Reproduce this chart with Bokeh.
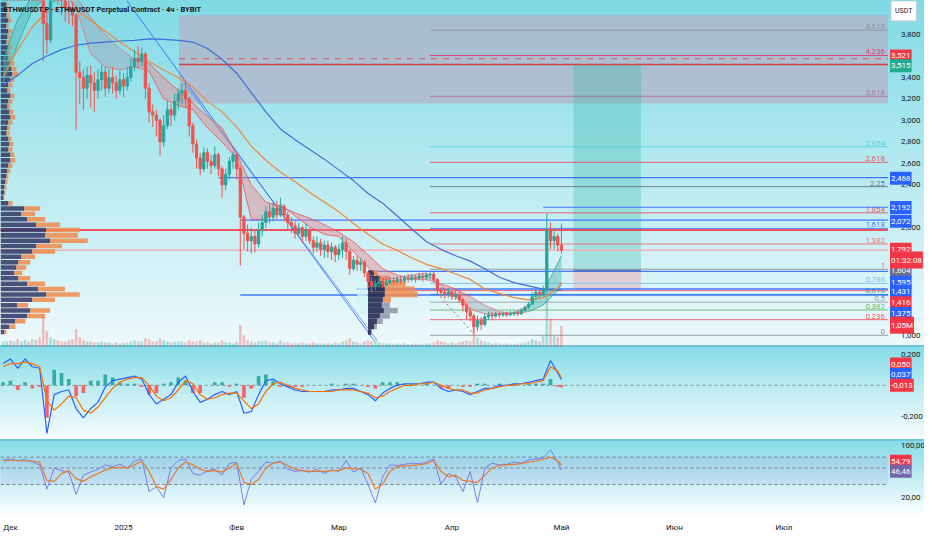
import numpy as np
from bokeh.plotting import figure
from bokeh.layouts import column
from bokeh.models import (Range1d, FixedTicker, CustomJSTickFormatter, Label,
                          BoxAnnotation, ColumnDataSource)
from bokeh.core.properties import value
from bokeh.embed import file_html
from bokeh.resources import INLINE

# ---------------- data (ETHW/USDT) ----------------
candle_days = list(range(-2, 152))          # day 0 = 1 Dec 2024
first_open = 4.40
closes = [4.45, 4.50, 4.40, 4.55, 4.35, 4.48, 4.60, 4.40, 4.52, 4.38,
          4.30, 3.90, 3.75, 4.15, 4.25, 4.20, 4.12, 4.05, 4.02, 3.98,
          3.45, 3.40, 3.30, 3.42, 3.35, 3.28, 3.38, 3.45, 3.30, 3.40,
          3.35, 3.28, 3.38, 3.32, 3.40, 3.50, 3.58, 3.55, 3.62, 3.30,
          3.08, 3.05, 3.00, 2.80, 2.95, 3.10, 3.05, 3.18, 3.25, 3.28,
          3.20, 2.95, 2.78, 2.65, 2.55, 2.70, 2.62, 2.58, 2.68, 2.55,
          2.40, 2.50, 2.62, 2.68, 2.55, 2.10, 1.95, 1.88, 1.92, 1.85,
          1.98, 2.05, 2.15, 2.10, 2.18, 2.12, 2.20, 2.12, 2.05, 2.02,
          1.95, 2.00, 1.92, 1.98, 1.88, 1.82, 1.86, 1.80, 1.84, 1.78,
          1.82, 1.75, 1.80, 1.86, 1.78, 1.62, 1.70, 1.66, 1.68, 1.58,
          1.50, 1.46, 1.48, 1.50, 1.47, 1.49, 1.51, 1.50, 1.52, 1.51,
          1.53, 1.52, 1.54, 1.53, 1.55, 1.54, 1.56, 1.57, 1.52, 1.42,
          1.40, 1.38, 1.40, 1.36, 1.38, 1.33, 1.28, 1.22, 1.18, 1.08,
          1.14, 1.10, 1.17, 1.19, 1.18, 1.20, 1.19, 1.20, 1.19, 1.20,
          1.21, 1.20, 1.23, 1.26, 1.29, 1.36, 1.40, 1.38, 1.42, 1.98,
          1.88, 1.92, 1.84, 1.792]
highs = [4.60, 4.62, 4.55, 4.70, 4.60, 4.58, 4.75, 4.65, 4.60, 4.55,
         4.45, 4.35, 4.05, 4.25, 4.35, 4.32, 4.25, 4.18, 4.12, 4.10,
         4.00, 3.55, 3.48, 3.50, 3.51, 3.45, 3.48, 3.52, 3.50, 3.48,
         3.50, 3.42, 3.46, 3.44, 3.50, 3.58, 3.66, 3.69, 3.68, 3.64,
         3.35, 3.15, 3.10, 3.02, 3.05, 3.18, 3.15, 3.25, 3.30, 3.35,
         3.36, 3.22, 2.98, 2.82, 2.70, 2.75, 2.74, 2.68, 2.76, 2.70,
         2.58, 2.55, 2.66, 2.71, 2.70, 2.58, 2.12, 2.03, 2.00, 1.98,
         2.05, 2.12, 2.20, 2.22, 2.24, 2.25, 2.28, 2.22, 2.15, 2.10,
         2.06, 2.05, 2.02, 2.04, 2.00, 1.92, 1.92, 1.90, 1.88, 1.88,
         1.86, 1.84, 1.85, 1.92, 1.90, 1.80, 1.74, 1.74, 1.72, 1.70,
         1.60, 1.54, 1.52, 1.54, 1.53, 1.52, 1.54, 1.54, 1.55, 1.56,
         1.56, 1.57, 1.57, 1.56, 1.58, 1.58, 1.58, 1.59, 1.59, 1.53,
         1.45, 1.43, 1.44, 1.42, 1.42, 1.40, 1.35, 1.30, 1.26, 1.20,
         1.18, 1.17, 1.20, 1.22, 1.22, 1.22, 1.22, 1.22, 1.22, 1.23,
         1.23, 1.23, 1.25, 1.28, 1.31, 1.40, 1.43, 1.43, 1.46, 2.13,
         2.05, 1.97, 1.95, 2.04]
lows = [4.35, 4.38, 4.30, 4.35, 4.25, 4.30, 4.42, 4.30, 4.35, 4.25,
        4.15, 3.55, 3.62, 3.72, 4.10, 4.08, 3.98, 3.92, 3.90, 3.88,
        2.91, 3.15, 3.10, 3.20, 3.12, 3.08, 3.20, 3.28, 3.22, 3.25,
        3.25, 3.20, 3.24, 3.22, 3.28, 3.36, 3.46, 3.48, 3.50, 3.20,
        2.98, 2.94, 2.85, 2.67, 2.75, 2.92, 2.95, 3.00, 3.10, 3.15,
        3.12, 2.85, 2.70, 2.55, 2.49, 2.52, 2.55, 2.50, 2.55, 2.48,
        2.28, 2.35, 2.45, 2.55, 2.45, 1.65, 1.80, 1.78, 1.76, 1.77,
        1.82, 1.92, 2.00, 2.04, 2.06, 2.08, 2.10, 2.06, 1.98, 1.95,
        1.90, 1.92, 1.86, 1.88, 1.85, 1.76, 1.78, 1.74, 1.72, 1.72,
        1.70, 1.68, 1.70, 1.72, 1.70, 1.56, 1.60, 1.60, 1.60, 1.54,
        1.44, 1.40, 1.42, 1.45, 1.44, 1.45, 1.47, 1.47, 1.48, 1.48,
        1.49, 1.49, 1.50, 1.49, 1.51, 1.50, 1.51, 1.52, 1.49, 1.39,
        1.36, 1.34, 1.35, 1.33, 1.33, 1.30, 1.22, 1.15, 1.13, 1.02,
        1.04, 1.05, 1.08, 1.14, 1.15, 1.16, 1.16, 1.17, 1.17, 1.18,
        1.18, 1.18, 1.19, 1.22, 1.24, 1.28, 1.33, 1.35, 1.36, 1.40,
        1.80, 1.80, 1.78, 1.76]
volumes_m = [0.30, 0.30, 0.35, 0.30, 0.40, 0.30, 0.35, 0.30, 0.40, 0.35, 0.50,
             1.50, 0.80, 0.50, 0.40, 0.35, 0.30, 0.30, 0.35, 0.40, 0.90,
             0.50, 0.35, 0.30, 0.30, 0.25, 0.25, 0.30, 0.25, 0.25, 0.20,
             0.25, 0.20, 0.25, 0.25, 0.30, 0.35, 0.30, 0.30, 0.45, 0.40,
             0.30, 0.30, 0.45, 0.35, 0.30, 0.25, 0.30, 0.30, 0.30, 0.25,
             0.35, 0.30, 0.30, 0.35, 0.25, 0.25, 0.20, 0.25, 0.25, 0.35,
             0.25, 0.25, 0.20, 0.30, 1.10, 0.60, 0.35, 0.30, 0.25, 0.30,
             0.30, 0.35, 0.25, 0.25, 0.20, 0.35, 0.25, 0.25, 0.20, 0.20,
             0.20, 0.25, 0.20, 0.20, 0.25, 0.20, 0.20, 0.20, 0.20, 0.20,
             0.25, 0.20, 0.30, 0.35, 0.45, 0.30, 0.25, 0.20, 0.30, 0.35,
             0.30, 0.35, 0.25, 0.20, 0.20, 0.20, 0.15, 0.20, 0.15, 0.20,
             0.15, 0.15, 0.20, 0.15, 0.15, 0.20, 0.20, 0.25, 0.35, 0.30,
             0.25, 0.20, 0.25, 0.20, 0.25, 0.30, 0.35, 0.30, 1.20, 0.50,
             0.35, 0.30, 0.25, 0.20, 0.20, 0.20, 0.15, 0.20, 0.15, 0.15,
             0.20, 0.20, 0.25, 0.30, 0.40, 0.35, 0.30, 0.60, 3.40, 1.40,
             0.60, 0.50, 1.05]

# moving averages / EMA ribbon (sampled every 4 days)
ma_days = list(range(-2, 151, 4)) + [151]
ma_long = [3.33, 3.42, 3.53, 3.60, 3.66, 3.70, 3.72, 3.73, 3.74, 3.745,
           3.76, 3.755, 3.745, 3.73, 3.67, 3.57, 3.44, 3.26, 3.08, 2.92,
           2.82, 2.73, 2.64, 2.54, 2.44, 2.32, 2.23, 2.11, 1.99, 1.87,
           1.80, 1.74, 1.69, 1.62, 1.54, 1.49, 1.46, 1.43, 1.42, 1.42]
ma_mid = [3.41, 3.66, 3.87, 4.01, 4.06, 4.03, 3.93, 3.83, 3.73, 3.64,
          3.55, 3.47, 3.40, 3.31, 3.18, 3.08, 2.94, 2.76, 2.63, 2.52,
          2.43, 2.33, 2.24, 2.15, 2.04, 1.94, 1.85, 1.79, 1.72, 1.66,
          1.62, 1.57, 1.52, 1.43, 1.39, 1.35, 1.33, 1.35, 1.44, 1.49]
ema_fast = [3.57, 3.94, 4.16, 4.25, 4.22, 4.05, 3.62, 3.50, 3.47, 3.50,
            3.46, 3.20, 3.14, 3.10, 2.93, 2.80, 2.65, 2.08, 2.08, 2.22,
            2.11, 2.01, 1.94, 1.92, 1.78, 1.63, 1.52, 1.53, 1.56, 1.58,
            1.46, 1.36, 1.24, 1.20, 1.20, 1.21, 1.27, 1.40, 1.67, 1.74]
ema_slow = [3.35, 3.71, 4.03, 4.15, 4.20, 4.15, 3.96, 3.80, 3.67, 3.57,
            3.53, 3.40, 3.28, 3.16, 3.04, 2.93, 2.69, 2.40, 2.24, 2.20,
            2.14, 2.09, 2.03, 1.96, 1.87, 1.75, 1.62, 1.56, 1.52, 1.52,
            1.48, 1.43, 1.36, 1.28, 1.22, 1.20, 1.22, 1.28, 1.42, 1.47]

# MACD / RSI (sampled every 2 days)
ind_days = list(range(-2, 151, 2)) + [151]
macd_line = [0.14, 0.17, 0.11, 0.17, 0.12, 0.11, -0.31, -0.06, -0.04, -0.03,
             -0.15, -0.21, -0.15, -0.11, -0.01, 0.03, 0.04, 0.05, 0.06, 0.04,
             -0.06, -0.12, -0.09, -0.06, 0.02, 0.06, -0.04, -0.11, -0.09, -0.06,
             -0.04, -0.06, -0.04, -0.18, -0.17, -0.06, 0.03, 0.04, 0.01, -0.01,
             -0.03, -0.04, -0.04, -0.04, -0.04, -0.03, -0.03, -0.02, -0.02, -0.04,
             -0.06, -0.10, -0.05, -0.02, 0.00, 0.01, 0.01, 0.01, 0.02, 0.02,
             -0.02, -0.04, -0.03, -0.04, -0.06, -0.04, -0.02, -0.02, 0.00, 0.00,
             0.01, 0.01, 0.02, 0.03, 0.04, 0.16, 0.08, 0.037]
signal_line = [0.12, 0.14, 0.14, 0.15, 0.14, 0.12, -0.10, -0.16, -0.12, -0.07,
               -0.08, -0.16, -0.18, -0.14, -0.08, -0.02, 0.02, 0.04, 0.05, 0.05,
               0.00, -0.07, -0.10, -0.08, -0.03, 0.03, 0.01, -0.06, -0.09, -0.08,
               -0.06, -0.05, -0.05, -0.10, -0.15, -0.12, -0.04, 0.01, 0.02, 0.00,
               -0.02, -0.03, -0.04, -0.04, -0.04, -0.04, -0.03, -0.03, -0.03, -0.04,
               -0.05, -0.08, -0.07, -0.04, -0.02, 0.00, 0.00, 0.01, 0.01, 0.02,
               0.00, -0.02, -0.03, -0.03, -0.05, -0.05, -0.03, -0.02, -0.01, 0.00,
               0.00, 0.01, 0.01, 0.02, 0.03, 0.12, 0.09, 0.050]
macd_hist = [0.02, 0.03, -0.03, 0.02, -0.02, -0.01, -0.21, 0.10, 0.08, 0.04,
             -0.07, -0.05, 0.03, 0.03, 0.07, 0.05, 0.02, 0.01, 0.01, -0.01,
             -0.06, -0.05, 0.01, 0.02, 0.05, 0.03, -0.05, -0.05, 0.00, 0.02,
             0.02, -0.01, 0.01, -0.08, -0.02, 0.06, 0.07, 0.03, -0.01, -0.01,
             -0.01, -0.01, 0.00, 0.00, 0.00, 0.01, 0.00, 0.01, 0.01, 0.00,
             -0.01, -0.02, 0.02, 0.02, 0.02, 0.01, 0.01, 0.00, 0.01, 0.00,
             -0.02, -0.02, 0.00, -0.01, -0.01, 0.01, 0.01, 0.00, 0.01, 0.00,
             0.01, 0.00, 0.01, 0.01, 0.01, 0.04, -0.01, -0.013]
rsi_line = [64, 66, 62, 65, 60, 55, 26, 50, 46, 44,
            22, 40, 44, 48, 55, 52, 56, 50, 62, 66,
            24, 28, 20, 50, 63, 66, 42, 40, 46, 48,
            40, 57, 60, 16, 35, 45, 60, 58, 62, 48,
            45, 46, 44, 48, 42, 47, 45, 63, 44, 50,
            30, 17, 38, 55, 54, 56, 58, 57, 60, 66,
            30, 42, 38, 24, 45, 17, 50, 58, 55, 56,
            60, 58, 64, 66, 68, 88, 60, 46.46]
rsi_ma = [62, 63, 63, 62, 62, 60, 34, 33, 42, 46,
          36, 33, 38, 42, 47, 50, 51, 50, 55, 62,
          45, 28, 26, 35, 50, 60, 55, 48, 45, 46,
          44, 50, 58, 32, 30, 35, 50, 58, 60, 54,
          48, 46, 45, 45, 45, 46, 46, 50, 49, 48,
          42, 26, 30, 45, 52, 53, 54, 55, 57, 63,
          45, 38, 40, 34, 33, 32, 40, 50, 54, 55,
          56, 57, 60, 62, 65, 70, 62, 54.79]
rsi_levels = [70, 50, 30]

# visible-range volume profile (left edge)
vp_prices = [4.08, 4.03, 3.98, 3.93, 3.88, 3.83, 3.78, 3.73, 3.68, 3.63,
             3.58, 3.53, 3.48, 3.43, 3.38, 3.33, 3.28, 3.23, 3.18, 3.13,
             3.08, 3.03, 2.98, 2.93, 2.88, 2.83, 2.78, 2.73, 2.68, 2.63,
             2.58, 2.53, 2.48, 2.43, 2.38, 2.33, 2.28, 2.23, 2.18, 2.13,
             2.08, 2.03, 1.98, 1.93, 1.88, 1.83, 1.78, 1.73, 1.68, 1.63,
             1.58, 1.53, 1.48, 1.43, 1.38, 1.33, 1.28, 1.23, 1.18, 1.13,
             1.08, 1.03]
vp_dark = [6, 7, 6, 8, 6, 8, 7, 6, 8, 7,
           8, 10, 11, 12, 10, 8, 7, 10, 8, 7,
           9, 10, 8, 7, 6, 8, 9, 8, 10, 10,
           8, 7, 6, 5, 4, 4, 3, 8, 24, 21,
           27, 36, 46, 45, 50, 36, 32, 21, 18, 16,
           14, 18, 27, 38, 46, 32, 17, 30, 27, 15,
           9, 4]
vp_orange = [2, 3, 3, 3, 2, 4, 3, 3, 4, 3,
             3, 4, 5, 6, 4, 4, 3, 4, 4, 3,
             4, 5, 4, 3, 3, 3, 4, 4, 4, 5,
             4, 3, 2, 2, 2, 1, 1, 4, 16, 14,
             18, 24, 34, 33, 38, 26, 23, 14, 12, 10,
             8, 12, 18, 27, 34, 23, 11, 20, 18, 10,
             6, 2]
# session volume profile (anchored in March)
svp_day = 98
svp_prices = [1.58, 1.53, 1.48, 1.43, 1.38, 1.33, 1.28, 1.23, 1.18, 1.13, 1.08, 1.03]
svp_dark = [6, 12, 16, 17, 17, 15, 14, 16, 12, 9, 6, 3]
svp_light = [4, 10, 22, 30, 33, 8, 8, 14, 10, 6, 3, 1]
svp_box_days = [95.1, 97.8]
svp_box_prices = [1.203, 1.555]

# Fibonacci extension (drawn from early April)
fib_start_day = 115
fib_ratio_labels = ["0", "0,236", "0,382", "0,5", "0,618", "0,786", "1", "1,382",
                    "1,618", "1,854", "2,25", "2,618", "2,854", "3,618", "4,236", "4,618"]
fib_prices = [1.0, 1.145, 1.235, 1.308, 1.38, 1.483, 1.615, 1.85,
              1.995, 2.14, 2.384, 2.61, 2.755, 3.225, 3.605, 3.84]

# horizontal drawings: price, start day
hline_prices = [1.98, 2.468, 2.072, 1.375, 2.192, 1.431, 1.595, 1.416, 3.521, 3.574]
hline_starts = [-3, 57, 63, 63, 146, 95, 98, 98, 46.2, 46.2]
current_price = 1.792
zone_days = [46.2, 240.5]
zone_prices = [3.157, 3.98]
pos_days = [154.3, 172.8]
pos_entry, pos_target, pos_stop = 1.604, 3.515, 1.431
trend1_days, trend1_prices = [31.8, 99.7], [4.12, 0.95]
trend2_days, trend2_prices = [47.6, 100.5], [3.348, 0.95]
proj_days, proj_prices = [116, 127], [1.43, 1.01]

month_days = [0, 31, 62, 90, 121, 151, 182, 212]
month_labels = ["Дек", "2025", "Фев", "Мар", "Апр", "Май", "Июн", "Июл"]

# ---------------- styling / layout ----------------
X_START, X_END = -2.72, 240.5      # X_END = where the drawing area stops (price scale begins)
X_FRAME_END = 250.5                # frame continues under the price scale
TAG_X = 241.05
PX_PER_DAY = 3.68
W = 924
UP, DN = "#26a69a", "#ef5350"
FONT = "Roboto"
xr = Range1d(X_START, X_FRAME_END)
# ribbon colouring by period (grey / teal / default pink)
grey_spans = [(18, 37), (106, 116), (126, 142)]
teal_spans = [(-3, 10), (142, 152)]

def fmt(v, n):
    return f"{v:.{n}f}".replace(".", ",")

def in_spans(d, spans):
    return any(a <= d < b for a, b in spans)

def base(fig):
    fig.grid.visible = False
    fig.outline_line_color = None
    fig.background_fill_alpha = 0
    fig.border_fill_alpha = 0
    ax = fig.yaxis[0]
    ax.fixed_location = X_END
    ax.axis_line_color = None
    ax.major_tick_line_color = None
    ax.minor_tick_line_color = None
    ax.major_label_text_font = FONT
    ax.major_label_text_font_size = "8px"
    ax.major_label_text_color = "#131722"
    ax.major_label_standoff = 7

def tag(fig, y, text, bg, fg="white"):
    fig.add_layout(Label(x=TAG_X, y=y, text=text, text_align="left",
                         text_baseline="middle", text_font=FONT, text_font_size="8px",
                         text_color=fg, background_fill_color=bg, background_fill_alpha=1.0,
                         padding=(1, 4)))

def make_fig(height, y_range, bottom=0, **kw):
    return figure(width=W, height=height, x_range=xr, y_range=y_range,
                  y_axis_location="right", output_backend="svg", toolbar_location=None,
                  min_border_left=0, min_border_right=0, min_border_top=0,
                  min_border_bottom=bottom, **kw)

# ---------- main price pane ----------
p = make_fig(347, Range1d(0.886, 4.117), x_axis_location=None)
base(p)
p.styles = {"background": "linear-gradient(180deg, #7fdae6 0%, #b7eaf0 50%, #eef9fb 100%)",
            "box-shadow": "inset 0 -2px 0 #72c4da"}
p.yaxis.ticker = FixedTicker(ticks=[1.0, 2.0, 2.4, 2.6, 2.8, 3.0, 3.2, 3.4, 3.8])
p.yaxis.formatter = CustomJSTickFormatter(code="return tick.toFixed(3).replace('.', ',')")

# zone rectangle
p.quad(left=[zone_days[0]], right=[zone_days[1]], bottom=[zone_prices[0]], top=[zone_prices[1]],
       fill_color="#b4b2c6", fill_alpha=0.72, line_color=None)
# long position
p.quad(left=[pos_days[0]], right=[pos_days[1]], bottom=[pos_entry], top=[pos_target],
       fill_color="#2bb5a0", fill_alpha=0.28, line_color=None)
p.quad(left=[pos_days[0]], right=[pos_days[1]], bottom=[pos_stop], top=[pos_entry],
       fill_color="#e88a94", fill_alpha=0.35, line_color=None)
p.segment(x0=[pos_days[0]], x1=[pos_days[1]], y0=[pos_entry], y1=[pos_entry],
          line_color="#787b86", line_width=1.2)

# fib lines + labels
fib_colors = ["#787b86", "#f23645", "#4caf50", "#8b8f96", "#089981", "#64b5f6", "#787b86", "#f7525f",
              "#2962ff", "#f23645", "#5d606b", "#f23645", "#4dd0e1", "#b05fa0", "#e91e63", "#8b8f9a"]
p.segment(x0=[fib_start_day] * len(fib_prices), x1=[X_END] * len(fib_prices),
          y0=fib_prices, y1=fib_prices, line_color=fib_colors, line_alpha=0.75, line_width=1)
p.text(x=[X_END] * len(fib_prices), y=fib_prices, text=fib_ratio_labels, x_offset=-3, y_offset=-1,
       text_align="right", text_baseline="bottom", text_font=value(FONT), text_font_size="8px",
       text_color=fib_colors, text_alpha=0.85)

# horizontal drawings
hl_colors = ["#f23645", "#2962ff", "#2962ff", "#2962ff", "#2962ff", "#2962ff", "#2962ff",
             "#f7525f", "#d32f2f", "#f23645"]
hl_widths = [2, 1.2, 1.4, 1.4, 1.2, 1.4, 1.2, 1, 1.4, 1]
hl_dash = ["solid"] * 9 + ["dashed"]
for pr, st, c, w, ds in zip(hline_prices, hline_starts, hl_colors, hl_widths, hl_dash):
    p.line(x=[st, X_END], y=[pr, pr], line_color=c, line_width=w, line_alpha=0.85, line_dash=ds)
p.line(x=[X_START, X_END], y=[current_price, current_price], line_color="#f7a8ad",
       line_width=1.5, line_alpha=0.9)

# trend lines
p.line(trend1_days, trend1_prices, line_color="#2962ff", line_width=1, line_alpha=0.8)
p.line(trend2_days, trend2_prices, line_color="#2962ff", line_width=1, line_alpha=0.6)
p.line(proj_days, proj_prices, line_color="#787b86", line_width=1, line_dash="2 3")

# left volume profile
vp_l0 = [X_START] * len(vp_prices)
vp_l1 = [X_START + d / PX_PER_DAY for d in vp_dark]
vp_l2 = [X_START + (d + o) / PX_PER_DAY for d, o in zip(vp_dark, vp_orange)]
p.hbar(y=vp_prices, left=vp_l0, right=vp_l1, height=0.042, fill_color="#2f3461",
       fill_alpha=0.85, line_color=None)
p.hbar(y=vp_prices, left=vp_l1, right=vp_l2, height=0.042, fill_color="#f08a4b",
       fill_alpha=0.85, line_color=None)
# session volume profile
p.quad(left=[svp_box_days[0]], right=[svp_box_days[1]], bottom=[svp_box_prices[0]],
       top=[svp_box_prices[1]], fill_color="#d2f4f7", fill_alpha=0.75, line_color=None)
s1 = [svp_day + d / PX_PER_DAY for d in svp_dark]
s2 = [svp_day + (d + o) / PX_PER_DAY for d, o in zip(svp_dark, svp_light)]
s_col = ["#f08a4b" if pr > 1.3 else "#8e95a8" for pr in svp_prices]
p.hbar(y=svp_prices, left=[svp_day] * len(svp_prices), right=s1, height=0.05,
       fill_color="#252a52", fill_alpha=0.9, line_color=None)
p.hbar(y=svp_prices, left=s1, right=s2, height=0.05, fill_color=s_col, fill_alpha=0.85, line_color=None)

# volume bars (overlay)
opens = [first_open] + closes[:-1]
ccol = [UP if c >= o else DN for o, c in zip(opens, closes)]
p.extra_y_ranges = {"vol": Range1d(0, 17)}
p.vbar(x=candle_days, top=volumes_m, bottom=0, width=0.7, fill_color=ccol, fill_alpha=0.35,
       line_color=None, y_range_name="vol")

# EMA ribbon
rib_xs, rib_ys, rib_fill, e_xs, e_ys, e_col = [], [], [], [], [], []
for i in range(len(ma_days) - 1):
    d0, d1 = ma_days[i], ma_days[i + 1]
    f0, f1, s0, s1_ = ema_fast[i], ema_fast[i + 1], ema_slow[i], ema_slow[i + 1]
    rib_xs.append([d0, d1, d1, d0])
    rib_ys.append([f0, f1, s1_, s0])
    if in_spans(d0, teal_spans):
        fc, ec = "#4db6ac", "#26a69a"
    elif in_spans(d0, grey_spans):
        fc, ec = "#9ea3b5", "#e5737a"
    else:
        fc, ec = "#e8838f", "#ef5350"
    rib_fill.append(fc)
    e_xs += [[d0, d1], [d0, d1]]
    e_ys += [[f0, f1], [s0, s1_]]
    e_col += [ec, ec]
p.patches(rib_xs, rib_ys, fill_color=rib_fill, fill_alpha=0.45, line_color=None)
p.multi_line(e_xs, e_ys, line_color=e_col, line_width=1, line_alpha=0.8)

# moving averages
p.line(ma_days, ma_long, line_color="#3f6fd9", line_width=1.2)
p.line(ma_days, ma_mid, line_color="#f0883e", line_width=1.2)

# candles
src = ColumnDataSource(dict(x=candle_days, h=highs, l=lows,
                            top=[max(o, c) for o, c in zip(opens, closes)],
                            bot=[min(o, c) for o, c in zip(opens, closes)], col=ccol))
p.segment(x0="x", x1="x", y0="l", y1="h", line_color="col", line_width=1, source=src)
p.vbar(x="x", top="top", bottom="bot", width=0.62, fill_color="col", line_color="col", source=src)

# title & tags
p.add_layout(Label(x=X_START, y=4.03, x_offset=3, text="ETHWUSDT.P · ETHWUSDT Perpetual Contract · 4ч · BYBIT",
                   text_font=FONT, text_font_size="7.5px", text_font_style="bold", text_color="#131722",
                   text_baseline="middle"))
p.add_layout(Label(x=TAG_X, y=4.02, x_offset=1, text="USDT", text_font=FONT, text_font_size="7px",
                   text_color="#131722", text_baseline="middle", background_fill_color="white",
                   border_line_color="#c9ccd3", padding=(4, 6)))
tags = [(pos_target + 0.006, 3.601, "#f23645"), (pos_target, 3.510, "#22ab94"),
        (2.468, 2.461, "#2962ff"), (2.192, 2.189, "#2962ff"), (2.072, 2.062, "#2962ff"),
        (pos_entry, 1.601, "#6b6f8f"), (1.595, 1.492, "#2962ff"), (pos_stop, 1.411, "#2962ff"),
        (1.416, 1.302, "#f23645"), (1.375, 1.203, "#2962ff")]
for v, yy, bg in tags:
    tag(p, yy, fmt(v, 3), bg)
tag(p, 1.80, fmt(current_price, 3), "#f23645")
tag(p, 1.70, "01:32:08", "#f23645")
tag(p, 1.094, fmt(volumes_m[-1], 2) + "M", "#f23645")

# ---------- MACD pane ----------
m = make_fig(94, Range1d(-0.3625, 0.244), x_axis_location=None)
base(m)
m.styles = {"background": "linear-gradient(180deg, #86dde8 0%, #c4eef3 50%, #f7fcfd 100%)",
            "box-shadow": "inset 0 -2px 0 #72c4da"}
m.yaxis.ticker = FixedTicker(ticks=[-0.2, 0.2])
m.yaxis.formatter = CustomJSTickFormatter(code="return tick.toFixed(3).replace('.', ',')")
m.line(x=[X_START, X_END], y=[0, 0], line_color="#8a8f9a", line_dash="3 3", line_width=1)
hcol = [UP if v >= 0 else "#ff5252" for v in macd_hist]
m.vbar(x=ind_days, top=macd_hist, bottom=0, width=1.0, fill_color=hcol, line_color=None, fill_alpha=0.9)
m.line(ind_days, macd_line, line_color="#2962ff", line_width=1.2)
m.line(ind_days, signal_line, line_color="#ff6d00", line_width=1.2)
tag(m, 0.1375, fmt(signal_line[-1], 3), "#f23645")
tag(m, 0.069, fmt(macd_line[-1], 3), "#2962ff")
tag(m, 0.0, fmt(macd_hist[-1], 3), "#f23645")

# ---------- RSI pane ----------
r = make_fig(93, Range1d(13.0, 113.3), bottom=17, y_axis_type="log")
base(r)
r.styles = {"background": "linear-gradient(180deg, #84dce7 0%, #c6eef3 42%, #ffffff 82%, #ffffff 100%)"}
r.yaxis.ticker = FixedTicker(ticks=[20, 100])
r.yaxis.formatter = CustomJSTickFormatter(code="return tick.toFixed(2).replace('.', ',')")
r.add_layout(BoxAnnotation(bottom=rsi_levels[2], top=rsi_levels[0], right=X_END, fill_color="#7e57c2",
                           fill_alpha=0.10, line_color=None))
for lv in rsi_levels:
    r.line(x=[X_START, X_END], y=[lv, lv], line_color="#787b86", line_dash="3 3", line_width=1)
r.line(ind_days, rsi_line, line_color="#7b80e8", line_width=1)
r.line(ind_days, rsi_ma, line_color="#f57c22", line_width=1.2)
tag(r, 61.6, fmt(rsi_ma[-1], 2), "#f23645")
tag(r, 45.3, fmt(rsi_line[-1], 2), "#7467a8")
xa = r.xaxis[0]
xa.ticker = FixedTicker(ticks=month_days)
xa.major_label_overrides = {d: t for d, t in zip(month_days, month_labels)}
xa.axis_line_color = None
xa.major_tick_line_color = None
xa.minor_tick_line_color = None
xa.major_label_text_font = FONT
xa.major_label_text_font_size = "8px"
xa.major_label_text_color = "#131722"
xa.major_label_standoff = 5

layout = column(p, m, r, spacing=0)
open("out.html", "w").write(file_html(layout, INLINE))
